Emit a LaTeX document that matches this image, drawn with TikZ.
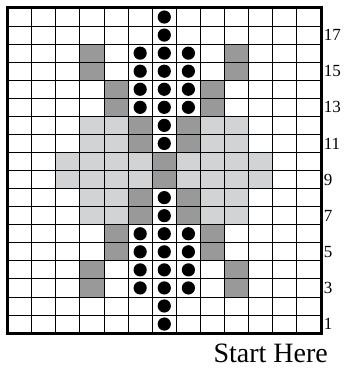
\documentclass[tikz,border=0pt]{standalone}
\usepackage{fontspec}
\setmainfont{Liberation Serif}
\definecolor{darkcell}{HTML}{999999}
\definecolor{lightcell}{HTML}{D1D3D4}
\tikzset{
  gridline/.style={draw=black, line width=0.9pt},
  frameline/.style={draw=black, line width=3pt},
  darkfill/.style={fill=darkcell},
  lightfill/.style={fill=lightcell},
  bead/.style={fill=black},
  numlabel/.style={font=\fontsize{17}{17}\selectfont, anchor=west, inner sep=0pt},
  startlabel/.style={font=\fontsize{28}{28}\selectfont, anchor=base east, inner sep=0pt}
}
\begin{document}
\begin{tikzpicture}[x=1pt,y=-1pt]
\useasboundingbox (0,0) rectangle (343,371);
\begin{scope}[shift={(7.5pt,-8pt)}, x=24.12pt, y=-18.06pt]
  % light cells
  \foreach \r in {12,11,8,7}{
    \foreach \c in {4,5,9,10}{
      \fill[lightfill] (\c-1,18-\r) rectangle (\c,19-\r);
    }
  }
  \foreach \r in {10,9}{
    \foreach \c in {3,4,5,6,8,9,10,11}{
      \fill[lightfill] (\c-1,18-\r) rectangle (\c,19-\r);
    }
  }
  % dark cells
  \foreach \c/\r in {4/16,10/16,4/15,10/15,5/14,9/14,5/13,9/13,6/12,8/12,6/11,8/11,7/10,7/9,6/8,8/8,6/7,8/7,5/6,9/6,5/5,9/5,4/4,10/4,4/3,10/3}{
    \fill[darkfill] (\c-1,18-\r) rectangle (\c,19-\r);
  }
  % grid
  \foreach \i in {1,...,12} \draw[gridline] (\i,0) -- (\i,18);
  \foreach \j in {1,...,17} \draw[gridline] (0,\j) -- (13,\j);
  \draw[frameline] (0,0) rectangle (13,18);
  % beads
  \foreach \r in {18,17,12,11,8,7,2,1}{
    \fill[bead] (6.5,18.5-\r) circle (6.6pt);
  }
  \foreach \r in {16,15,14,13,6,5,4,3}{
    \foreach \c in {6,7,8}{
      \fill[bead] (\c-0.5,18.5-\r) circle (6.6pt);
    }
  }
  % row numbers
  \foreach \r in {17,15,13,11,9,7,5,3,1}{
    \node[numlabel] (n\r) at ([xshift=2.5pt]13,18.5-\r) {\r};
  }
\end{scope}
\node[startlabel] (start) at (328,362) {Start Here};
\end{tikzpicture}
\end{document}
